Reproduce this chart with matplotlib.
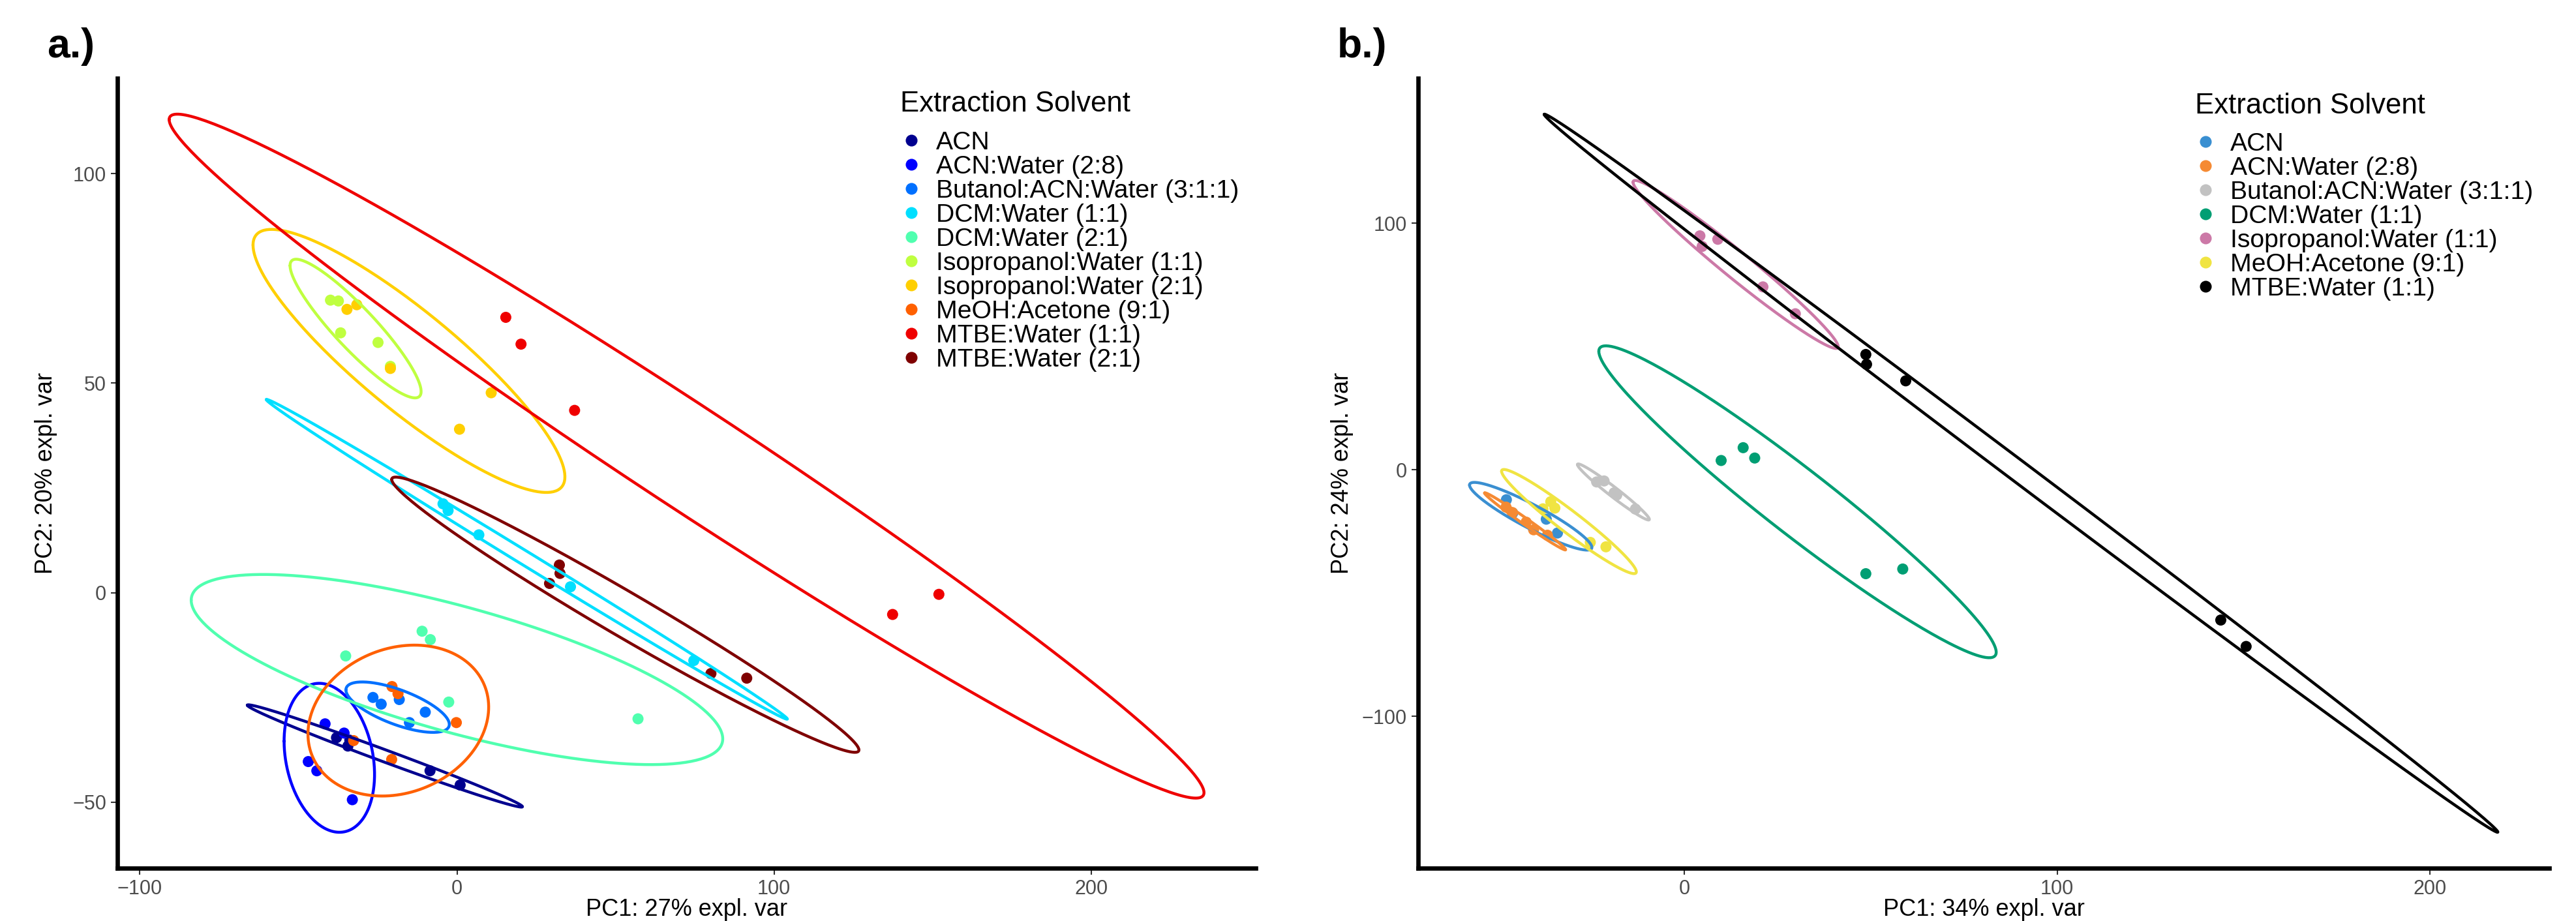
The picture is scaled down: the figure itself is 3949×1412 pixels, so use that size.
import numpy as np
import matplotlib
matplotlib.use("Agg")
import matplotlib.pyplot as plt
from matplotlib.lines import Line2D

plt.rcParams['font.family'] = ['Liberation Sans', 'DejaVu Sans']

# ---------------- Panel a data ----------------
groups_a = ["ACN", "ACN:Water (2:8)", "Butanol:ACN:Water (3:1:1)", "DCM:Water (1:1)",
            "DCM:Water (2:1)", "Isopropanol:Water (1:1)", "Isopropanol:Water (2:1)",
            "MeOH:Acetone (9:1)", "MTBE:Water (1:1)", "MTBE:Water (2:1)"]
colors_a = ["#00008F", "#0000FF", "#0070FF", "#00DFFF", "#50FFAF",
            "#BFFF40", "#FFCF00", "#FF6000", "#EF0000", "#7F0000"]
pc1_a = [
    [-38.0, -34.4, -33.8, -8.5, 1.0],
    [-41.6, -35.6, -46.9, -44.2, -33.0],
    [-26.5, -23.9, -18.2, -10.0, -15.0],
    [-4.4, -2.8, 6.9, 35.8, 74.7],
    [-35.1, -11.0, -8.4, -2.6, 57.1],
    [-39.9, -37.4, -36.7, -24.9, -21.0],
    [-34.7, -31.6, -21.0, 0.8, 10.8],
    [-20.5, -18.6, -0.2, -32.6, -20.6],
    [15.4, 20.2, 37.1, 137.4, 152.0],
    [32.3, 32.5, 29.2, 80.1, 91.4],
]
pc2_a = [
    [-34.6, -36.6, -35.2, -42.5, -45.9],
    [-31.3, -33.5, -40.3, -42.5, -49.4],
    [-25.0, -26.6, -25.5, -28.5, -31.0],
    [21.2, 19.6, 13.8, 1.4, -16.2],
    [-15.1, -9.2, -11.2, -26.1, -30.1],
    [69.8, 69.6, 62.0, 59.7, 54.0],
    [67.6, 68.7, 53.5, 39.0, 47.7],
    [-22.4, -24.1, -31.0, -35.3, -39.8],
    [65.7, 59.3, 43.5, -5.2, -0.4],
    [6.6, 4.6, 2.2, -19.3, -20.4],
]
xticks_a = [-100, 0, 100, 200]
yticks_a = [-50, 0, 50, 100]

# ---------------- Panel b data ----------------
groups_b = ["ACN", "ACN:Water (2:8)", "Butanol:ACN:Water (3:1:1)", "DCM:Water (1:1)",
            "Isopropanol:Water (1:1)", "MeOH:Acetone (9:1)", "MTBE:Water (1:1)"]
colors_b = ["#3A8FD1", "#F58A33", "#C2C2C2", "#009E73", "#CC79A7", "#F0E442", "#000000"]
pc1_b = [
    [-47.7, -46.0, -37.0, -34.0],
    [-47.8, -46.1, -42.4, -40.4, -36.7],
    [-23.5, -21.5, -18.1, -18.8, -13.1],
    [9.9, 15.8, 18.9, 48.7, 58.6],
    [4.2, 9.0, 4.8, 21.1, 29.8],
    [-37.9, -35.8, -34.7, -25.2, -21.0],
    [48.7, 48.9, 59.4, 143.9, 150.7],
]
pc2_b = [
    [-12.1, -17.5, -20.0, -25.6],
    [-15.1, -17.3, -21.2, -24.3, -26.5],
    [-4.9, -4.5, -10.2, -9.3, -15.9],
    [3.8, 9.0, 4.8, -42.1, -40.2],
    [94.9, 93.5, 90.6, 74.2, 63.3],
    [-15.8, -12.9, -15.5, -29.4, -31.2],
    [46.8, 42.8, 36.1, -60.9, -71.6],
]
xticks_b = [0, 100, 200]
yticks_b = [-100, 0, 100]

W, H = 3949, 1412
fig = plt.figure(figsize=(W / 100, H / 100), dpi=100)


def px_axes(l, r, t, b):
    return [l / W, 1 - b / H, (r - l) / W, (b - t) / H]


ED = np.sqrt(-2 * np.log(0.05))  # 95% normal ellipse


def ellipse(x, y, n=300):
    pts = np.column_stack([x, y])
    mu = pts.mean(axis=0)
    sigma = np.cov(pts.T)
    L = np.linalg.cholesky(sigma)
    t = np.linspace(-np.pi, np.pi, n)
    circ = np.column_stack([np.cos(t), np.sin(t)])
    return circ @ L.T * ED + mu


def draw(ax, colors, xs, ys, xticks, yticks, xlabel, ylabel, ylab_x):
    allx, ally = [], []
    for c, x, y in zip(colors, xs, ys):
        ax.scatter(x, y, s=150, color=c, edgecolors='none', zorder=2)
        e = ellipse(x, y)
        ax.plot(e[:, 0], e[:, 1], color=c, lw=3.2, zorder=3, solid_capstyle='round')
        allx += list(x) + list(e[:, 0])
        ally += list(y) + list(e[:, 1])
    x0, x1 = min(allx), max(allx)
    y0, y1 = min(ally), max(ally)
    dx, dy = (x1 - x0) * 0.05, (y1 - y0) * 0.05
    ax.set_xlim(x0 - dx, x1 + dx)
    ax.set_ylim(y0 - dy, y1 + dy)
    ax.set_xticks(xticks)
    ax.set_yticks(yticks)
    for s in ['top', 'right']:
        ax.spines[s].set_visible(False)
    for s in ['left', 'bottom']:
        ax.spines[s].set_linewidth(4.8)
        ax.spines[s].set_color('black')
    ax.tick_params(length=7.2, width=1.5, color='#333333', labelsize=22,
                   labelcolor='#4D4D4D', pad=5)
    ax.set_xlabel(xlabel, fontsize=26)
    ax.set_ylabel(ylabel, fontsize=26)
    ax.xaxis.set_label_coords(0.5, -0.038)
    ax.yaxis.set_label_coords(ylab_x, 0.5)
    ax.set_facecolor('white')


ax_a = fig.add_axes(px_axes(180, 1925, 120, 1331))
draw(ax_a, colors_a, pc1_a, pc2_a, xticks_a, yticks_a,
     "PC1: 27% expl. var", "PC2: 20% expl. var", -0.053)
ax_b = fig.add_axes(px_axes(2174, 3908, 120, 1331))
draw(ax_b, colors_b, pc1_b, pc2_b, xticks_b, yticks_b,
     "PC1: 34% expl. var", "PC2: 24% expl. var", -0.057)


def legend(ax, groups, colors, left_px, top_px, title_x_px, title_base_px):
    handles = [Line2D([], [], marker='o', ls='none', color=c, markersize=13,
                      markeredgewidth=0) for c in colors]
    ax.legend(handles, groups, loc='upper left',
              bbox_to_anchor=(left_px / W, 1 - top_px / H),
              bbox_transform=fig.transFigure, frameon=False, fontsize=28.2,
              borderpad=0, borderaxespad=0, handlelength=0.96,
              handletextpad=0.5, labelspacing=0.025)
    fig.text(title_x_px / W, 1 - title_base_px / H, "Extraction Solvent",
             fontsize=31.5, ha='left', va='baseline')


legend(ax_a, groups_a, colors_a, 1378, 201, 1380, 170.7)
legend(ax_b, groups_b, colors_b, 3362, 203, 3365, 173.7)

fig.text(72 / W, 1 - 88 / H, "a.)", fontsize=45, fontweight='bold', va='baseline')
fig.text(2050 / W, 1 - 88 / H, "b.)", fontsize=45, fontweight='bold', va='baseline')

fig.savefig("out.png", dpi=100, facecolor='white')
